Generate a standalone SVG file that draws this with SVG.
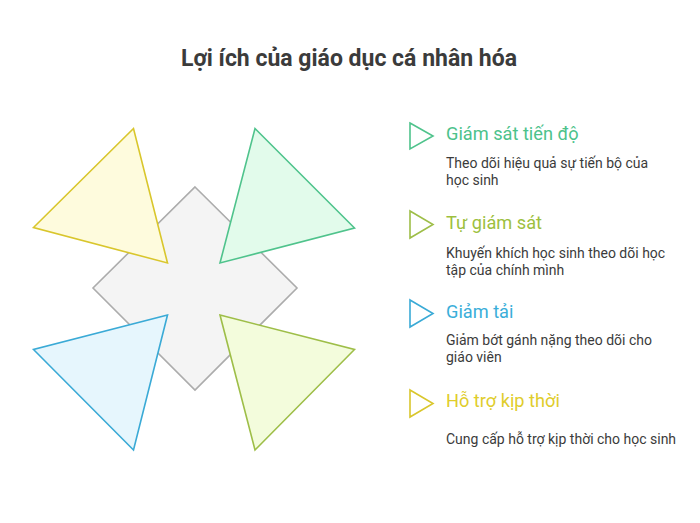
<svg xmlns="http://www.w3.org/2000/svg" width="700" height="523" viewBox="0 0 700 523">
<style>
.title{font-family:Roboto,"Liberation Sans",sans-serif;font-weight:bold;font-size:23px;fill:#3b3b3b}
.h{font-family:Roboto,"Liberation Sans",sans-serif;font-size:18.2px}
.d{font-family:Roboto,"Liberation Sans",sans-serif;font-size:14px;fill:#3b3b3b}
.s{stroke-width:1.6;stroke-linejoin:miter}
</style>
<rect width="700" height="523" fill="#ffffff"/>
<text class="title" x="349" y="66" text-anchor="middle">Lợi ích của giáo dục cá nhân hóa</text>
<g id="center">
<polygon points="195,187 297,288 195,390 93,288" fill="#f4f4f4" stroke="#acacac" stroke-width="1.6"/>
</g>
<g id="tri-yellow">
<polygon class="s" points="133.5,128.5 33.5,227.5 167.5,263" fill="#fefbdd" stroke="#d9c62c"/>
</g>
<g id="tri-green">
<polygon class="s" points="255,128.5 354.5,228 220,263" fill="#e2fbeb" stroke="#4fc38c"/>
</g>
<g id="tri-blue">
<polygon class="s" points="167.5,315 33.5,349.5 133.5,450" fill="#e6f6fd" stroke="#3aaad6"/>
</g>
<g id="tri-lime">
<polygon class="s" points="220,315 354.5,349.5 255,450" fill="#f3fcdc" stroke="#9ebe48"/>
</g>
<g id="item1">
<polygon class="s" points="410,123 433,136 410,149" fill="none" stroke="#4fc38c"/>
<text class="h" x="446" y="140" fill="#4cc28b">Giám sát tiến độ</text>
<text class="d" x="446" y="168">Theo dõi hiệu quả sự tiến bộ của</text>
<text class="d" x="446" y="185">học sinh</text>
</g>
<g id="item2">
<polygon class="s" points="410,211 433,224.5 410,238" fill="none" stroke="#9ebe48"/>
<text class="h" x="446" y="229" fill="#9dbf3e">Tự giám sát</text>
<text class="d" x="446" y="258">Khuyến khích học sinh theo dõi học</text>
<text class="d" x="446" y="275">tập của chính mình</text>
</g>
<g id="item3">
<polygon class="s" points="410,300 433,313.5 410,327" fill="none" stroke="#3aaad6"/>
<text class="h" x="446" y="318" fill="#3aaed9">Giảm tải</text>
<text class="d" x="446" y="345">Giảm bớt gánh nặng theo dõi cho</text>
<text class="d" x="446" y="362">giáo viên</text>
</g>
<g id="item4">
<polygon class="s" points="410,390 433,403.5 410,417" fill="none" stroke="#d9c62c"/>
<text class="h" x="446" y="407" fill="#e0cd2c">Hỗ trợ kịp thời</text>
<text class="d" x="446" y="444">Cung cấp hỗ trợ kịp thời cho học sinh</text>
</g>
<g id="connectors"></g>
</svg>
